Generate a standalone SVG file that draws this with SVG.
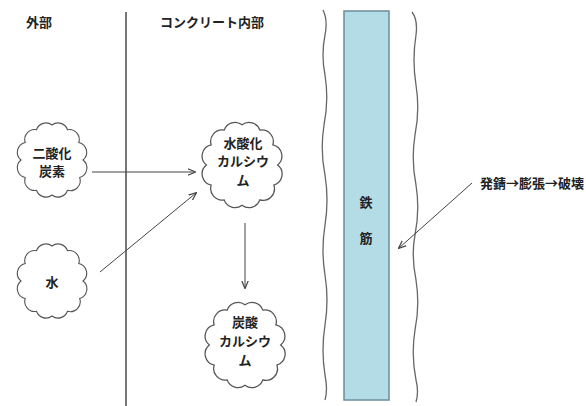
<svg xmlns="http://www.w3.org/2000/svg" width="586" height="406" viewBox="0 0 586 406">
<style>
.t{font-family:"Noto Sans CJK JP","Noto Sans",sans-serif;font-size:13px;font-weight:bold;fill:#222;text-anchor:middle}
.cloud{fill:#fff;stroke:#555;stroke-width:1.1}
.arr{stroke:#444;stroke-width:1;fill:none;marker-end:url(#ah)}
.wave{fill:none;stroke:#666;stroke-width:1.3}
</style>
<defs>
<marker id="ah" viewBox="0 0 10 10" refX="9" refY="5" markerWidth="8" markerHeight="8" orient="auto" markerUnits="userSpaceOnUse">
<path d="M0,1 L10,5 L0,9" fill="none" stroke="#444" stroke-width="1.5"/>
</marker>
<path id="cl" class="cloud" d="M31,0 A10,10 0 0 1 27.7,17.5 A10,10 0 0 1 15.5,30.3 A10,10 0 0 1 0,35 A10,10 0 0 1 -15.5,30.3 A10,10 0 0 1 -26.8,17.5 A10,10 0 0 1 -31,0 A10,10 0 0 1 -26.8,-17.5 A10,10 0 0 1 -15.5,-30.3 A10,10 0 0 1 0,-35 A10,10 0 0 1 15.5,-30.3 A10,10 0 0 1 26.8,-17.5 A10,10 0 0 1 31,0 Z"/>
</defs>
<rect width="586" height="406" fill="#fff"/>
<g id="boundary">
<line x1="126" y1="12" x2="126" y2="406" stroke="#777" stroke-width="2"/>
</g>
<g id="labels">
<text class="t" x="39" y="27">外部</text>
<text class="t" x="212" y="27">コンクリート内部</text>
</g>
<g id="rebar">
<path class="wave" d="M323,10 Q328,20 325,35 Q321,55 325,75 Q329,100 324,125 Q320,150 325,175 Q329,200 325,225 Q321,250 325,275 Q329,300 325,325 Q321,350 325,375 Q328,390 325,400"/>
<rect x="344" y="11" width="45" height="389" fill="#b3dce7" stroke="#6c8c9c" stroke-width="1.5"/>
<path class="wave" d="M412,12 Q418,20 416,35 Q412,60 416,85 Q420,110 415,135 Q411,160 416,185 Q420,210 415,235 Q411,255 416,280 Q420,305 415,330 Q411,355 416,380 Q419,392 416,402"/>
<text class="t" x="366" y="207">鉄</text>
<text class="t" x="366" y="243">筋</text>
</g>
<g id="co2">
<use href="#cl" transform="translate(52,160)"/>
<text class="t" x="52" y="158">二酸化</text>
<text class="t" x="52" y="176">炭素</text>
</g>
<g id="water">
<use href="#cl" transform="translate(52,281)"/>
<text class="t" x="52" y="287">水</text>
</g>
<g id="caoh">
<use href="#cl" transform="translate(242,165) scale(1.15)"/>
<text class="t" x="243" y="148">水酸化</text>
<text class="t" x="243" y="166">カルシウ</text>
<text class="t" x="243" y="185">ム</text>
</g>
<g id="caco3">
<use href="#cl" transform="translate(245,345) scale(1.15)"/>
<text class="t" x="245" y="327">炭酸</text>
<text class="t" x="245" y="346">カルシウ</text>
<text class="t" x="245" y="365">ム</text>
</g>
<g id="result">
<text class="t" x="532" y="188">発錆→膨張→破壊</text>
</g>
<g id="connectors">
<line class="arr" x1="92" y1="172" x2="195" y2="172"/>
<line class="arr" x1="100" y1="272" x2="196" y2="193"/>
<line class="arr" x1="245" y1="223" x2="245" y2="288"/>
<line class="arr" x1="472" y1="183" x2="399" y2="248"/>
</g>
</svg>
